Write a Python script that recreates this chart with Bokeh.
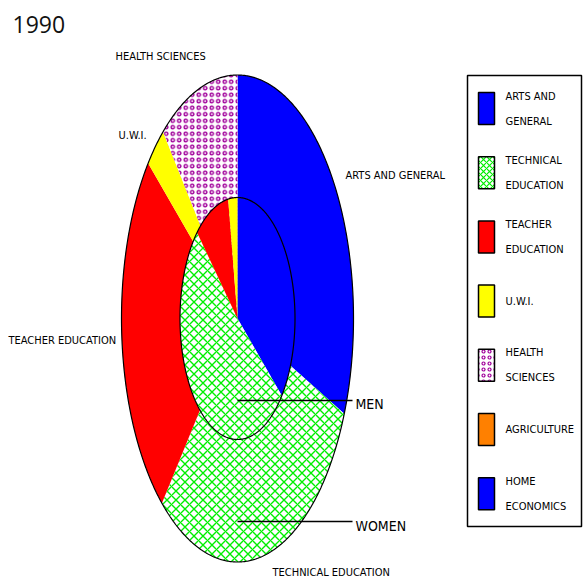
import numpy as np
from bokeh.plotting import figure
from bokeh.models import Range1d, ColumnDataSource
from bokeh.core.properties import value
from bokeh.embed import file_html
from bokeh.resources import INLINE

# ---------------- data ----------------
title_text = "1990"
categories = ["ARTS AND GENERAL", "TECHNICAL EDUCATION", "TEACHER EDUCATION",
              "U.W.I.", "HEALTH SCIENCES", "AGRICULTURE", "HOME ECONOMICS"]
legend_lines = [["ARTS AND", "GENERAL"], ["TECHNICAL", "EDUCATION"],
                ["TEACHER", "EDUCATION"], ["U.W.I."], ["HEALTH", "SCIENCES"],
                ["AGRICULTURE"], ["HOME", "ECONOMICS"]]
women = [31.4, 29.9, 24.7, 2.9, 11.1, 0.0, 0.0]   # outer ring (%)
men = [36.0, 51.6, 9.8, 2.6, 0.0, 0.0, 0.0]       # inner pie (%)
ring_labels = ["MEN", "WOMEN"]
wedge_labels = ["HEALTH SCIENCES", "U.W.I.", "ARTS AND GENERAL",
                "TEACHER EDUCATION", "TECHNICAL EDUCATION"]

# ---------------- styles ----------------
fill_colors = ["#0000ff", "#ffffff", "#ff0000", "#ffff00", "#ffffff", "#ff8000", "#0000ff"]
hatch_patterns = ["blank", "diagonal_cross", "blank", "blank", "ring", "blank", "blank"]
hatch_colors = ["#000000", "#00ee00", "#000000", "#000000", "#a0009a", "#000000", "#000000"]
hatch_scales = [9, 9, 9, 9, 6.5, 9, 9]
FONT = value("Liberation Sans Narrow, DejaVu Sans Condensed, sans-serif")

# layout (pixel-like coordinates of the page image)
cx, cy = 237.0, 318.0
outer_r = (116.0, 243.5)
inner_r = (57.5, 121.0)

p = figure(width=585, height=582, x_range=Range1d(0, 585), y_range=Range1d(582, 0),
           output_backend="svg", toolbar_location=None, min_border=0)
p.axis.visible = False
p.grid.visible = False
p.outline_line_color = None
p.background_fill_color = "white"
p.border_fill_color = "white"


def pie_source(vals, r):
    rx, ry = r
    total = float(sum(vals))
    xs, ys, fc, hp, hc, hs = [], [], [], [], [], []
    a = 0.0
    for i, v in enumerate(vals):
        if v <= 0:
            continue
        a1 = a + 2 * np.pi * v / total
        th = np.linspace(a, a1, max(int((a1 - a) * 180 / np.pi * 2), 2))
        xs.append([cx] + list(cx + rx * np.sin(th)))
        ys.append([cy] + list(cy - ry * np.cos(th)))
        fc.append(fill_colors[i]); hp.append(hatch_patterns[i])
        hc.append(hatch_colors[i]); hs.append(hatch_scales[i])
        a = a1
    return ColumnDataSource(dict(xs=xs, ys=ys, fc=fc, hp=hp, hc=hc, hs=hs))


def outline(r):
    th = np.linspace(0, 2 * np.pi, 721)
    return cx + r[0] * np.sin(th), cy - r[1] * np.cos(th)


for vals, r in ((women, outer_r), (men, inner_r)):
    src = pie_source(vals, r)
    p.patches("xs", "ys", source=src, fill_color="fc", hatch_pattern="hp",
              hatch_color="hc", hatch_scale="hs", hatch_weight=1.4, line_color=None)
    ox, oy = outline(r)
    p.line(ox, oy, line_color="black", line_width=1.2)

# leader lines for MEN / WOMEN
ring_y = [400, 521]
p.segment(x0=[cx, cx], y0=ring_y, x1=[352, 352], y1=ring_y, line_color="black", line_width=1.5)
p.text(x=[355, 355], y=[403, 525], text=ring_labels, text_font=FONT, text_font_size="14px",
       text_baseline="middle", text_align="left", text_color="black")

# wedge labels
p.text(x=[115, 118, 345, 8, 272], y=[56, 135, 175, 340, 572], text=wedge_labels,
       text_font=FONT, text_font_size="11px", text_baseline="middle",
       text_align="left", text_color="black")

# title
p.text(x=[12], y=[24], text=[title_text], text_font=value("Open Sans"),
       text_font_size="23px", text_baseline="middle", text_align="left", text_color="#111111")

# legend box
p.quad(left=[467], right=[581], top=[75], bottom=[526], fill_color="white",
       line_color="black", line_width=1.5)
centers = [108 + i * 64.2 for i in range(len(categories))]
p.quad(left=[478] * 7, right=[494] * 7, top=[c - 16 for c in centers],
       bottom=[c + 16 for c in centers], fill_color=fill_colors,
       hatch_pattern=hatch_patterns, hatch_color=hatch_colors, hatch_scale=6,
       hatch_weight=1.2, line_color="black", line_width=1.5)
lx, ly, lt = [], [], []
for c, lines in zip(centers, legend_lines):
    n = len(lines)
    for j, t in enumerate(lines):
        lx.append(505)
        ly.append(c + (j - (n - 1) / 2) * 25)
        lt.append(t)
p.text(x=lx, y=ly, text=lt, text_font=FONT, text_font_size="11px",
       text_baseline="middle", text_align="left", text_color="black")

open("out.html", "w").write(file_html(p, INLINE))
